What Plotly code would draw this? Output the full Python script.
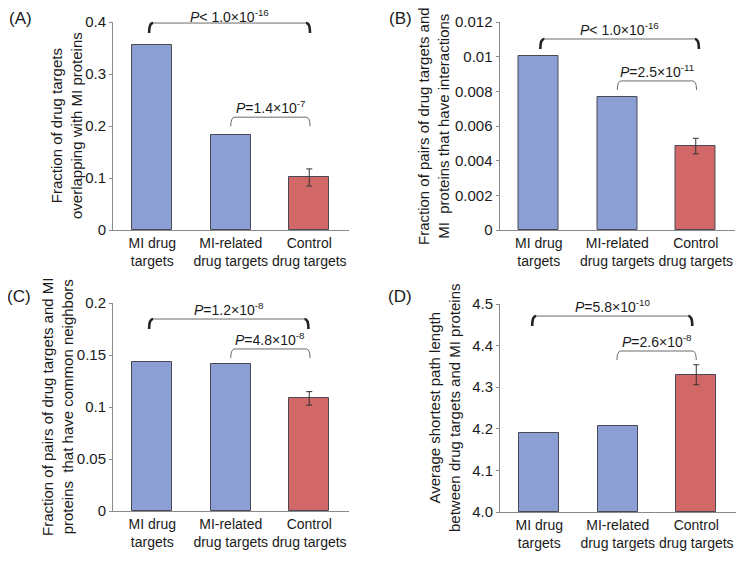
import plotly.graph_objects as go

# The page body has an 8px margin, so the figure paper starts at (8, 8) on screen.
OFF = 8
W, H = 754 - OFF, 562 - OFF

categories = ["MI drug<br>targets", "MI-related<br>drug targets", "Control<br>drug targets"]

a_values = [0.355, 0.183, 0.101]
a_errors = [0, 0, 0.0165]
b_values = [0.01005, 0.00769, 0.00484]
b_errors = [0, 0, 0.00045]
c_values = [0.1428, 0.1410, 0.1083]
c_errors = [0, 0, 0.0065]
d_values = [4.190, 4.206, 4.330]
d_errors = [0, 0, 0.024]

a_ticks = [0, 0.1, 0.2, 0.3, 0.4]
a_ticktext = ["0", "0.1", "0.2", "0.3", "0.4"]
b_ticks = [0, 0.002, 0.004, 0.006, 0.008, 0.01, 0.012]
b_ticktext = ["0", "0.002", "0.004", "0.006", "0.008", "0.01", "0.012"]
c_ticks = [0, 0.05, 0.1, 0.15, 0.2]
c_ticktext = ["0", "0.05", "0.1", "0.15", "0.2"]
d_ticks = [4.0, 4.1, 4.2, 4.3, 4.4, 4.5]
d_ticktext = ["4.0", "4.1", "4.2", "4.3", "4.4", "4.5"]

a_title = ["Fraction of drug targets", "overlapping with MI proteins"]
b_title = ["Fraction of pairs of drug targets and", "MI  proteins that have interactions"]
c_title = ["Fraction of pairs of drug targets and MI", "proteins  that have common neighbors"]
d_title = ["Average shortest path length", "between drug targets and MI proteins"]

# brackets: (x_left, x_right, y_top, label, bold_ends)
a_brackets = [(-0.04, 2.01, 0.398, "<i>P</i>< 1.0×10<sup>-16</sup>", True),
              (1.0, 2.01, 0.217, "<i>P</i>=1.4×10<sup>-7</sup>", False)]
b_brackets = [(0.02, 2.04, 0.01102, "<i>P</i>< 1.0×10<sup>-16</sup>", True),
              (1.0, 2.01, 0.0086, "<i>P</i>=2.5×10<sup>-11</sup>", False)]
c_brackets = [(-0.04, 1.99, 0.1846, "<i>P</i>=1.2×10<sup>-8</sup>", True),
              (1.0, 2.01, 0.1558, "<i>P</i>=4.8×10<sup>-8</sup>", False)]
d_brackets = [(-0.09, 1.95, 4.471, "<i>P</i>=5.8×10<sup>-10</sup>", True),
              (0.99, 2.0, 4.387, "<i>P</i>=2.6×10<sup>-8</sup>", False)]

panel_labels = ["(A)", "(B)", "(C)", "(D)"]

blue = "#8C9FD5"
red = "#D16767"
colors = [blue, blue, red]

# screen-pixel layout of each panel
panels = [
    dict(px=(113, 348.5), py=(22, 230), yr=(0, 0.4), vals=a_values, errs=a_errors,
         tv=a_ticks, tt=a_ticktext, title=a_title, tx=66, br=a_brackets, lab=(20, 18)),
    dict(px=(499.5, 735), py=(22, 230), yr=(0, 0.012), vals=b_values, errs=b_errors,
         tv=b_ticks, tt=b_ticktext, title=b_title, tx=433, br=b_brackets, lab=(400, 18)),
    dict(px=(113, 348.5), py=(303, 511), yr=(0, 0.2), vals=c_values, errs=c_errors,
         tv=c_ticks, tt=c_ticktext, title=c_title, tx=57, br=c_brackets, lab=(19, 296)),
    dict(px=(500, 735.5), py=(304, 512), yr=(4.0, 4.5), vals=d_values, errs=d_errors,
         tv=d_ticks, tt=d_ticktext, title=d_title, tx=444, br=d_brackets, lab=(400, 296)),
]


def paper(px, py):
    return (px - OFF) / W, 1 - (py - OFF) / H


fig = go.Figure()
shapes = []
annotations = []
font = "Arial, Liberation Sans, sans-serif"
xs = [0, 1, 2]

for i, p in enumerate(panels):
    n = "" if i == 0 else str(i + 1)
    xa, ya = "x" + n, "y" + n
    base = p["yr"][0]
    fig.add_trace(go.Bar(
        x=xs, y=[v - base for v in p["vals"]], base=base, width=0.51,
        xaxis=xa, yaxis=ya,
        marker=dict(color=colors, line=dict(color="#4a4a55", width=1)),
        showlegend=False, hoverinfo="skip",
    ))
    ex = [x for x, e in zip(xs, p["errs"]) if e > 0]
    ey = [v for v, e in zip(p["vals"], p["errs"]) if e > 0]
    ee = [e for e in p["errs"] if e > 0]
    fig.add_trace(go.Scatter(
        x=ex, y=ey, mode="markers", marker=dict(size=1, opacity=0),
        error_y=dict(type="data", array=ee, visible=True, color="#333333",
                     thickness=1, width=3),
        xaxis=xa, yaxis=ya, showlegend=False, hoverinfo="skip",
    ))
    x0p, x1p = p["px"]
    ytop, ybot = p["py"]
    dx0, dy1 = paper(x0p, ytop)
    dx1, dy0 = paper(x1p, ybot)
    axis_common = dict(showgrid=False, zeroline=False, showline=True,
                       linecolor="#8a8a8a", linewidth=1, automargin=False)
    fig.layout["xaxis" + n] = dict(
        domain=[dx0, min(dx1, 1)], range=[-0.5, 2.5], tickvals=xs, ticktext=categories,
        ticks="", tickangle=0, tickfont=dict(size=14, color="#1a1a1a", family=font),
        anchor=ya, fixedrange=True, **axis_common)
    fig.layout["yaxis" + n] = dict(
        domain=[dy0, dy1], range=list(p["yr"]), tickvals=p["tv"], ticktext=p["tt"],
        ticks="outside", ticklen=3, tickcolor="#8a8a8a",
        tickfont=dict(size=15, color="#1a1a1a", family=font),
        anchor=xa, fixedrange=True, **axis_common)

    def to_px(xv, yv, p=p):
        x0p, x1p = p["px"]
        ytop, ybot = p["py"]
        px = x0p + (xv + 0.5) / 3.0 * (x1p - x0p)
        py = ybot - (yv - p["yr"][0]) / (p["yr"][1] - p["yr"][0]) * (ybot - ytop)
        return px, py

    for (xl, xr, yt, label, bold) in p["br"]:
        lx, ty = to_px(xl, yt)
        rx, _ = to_px(xr, yt)
        drop = 10 if bold else 9
        c = 4
        ax, ay = paper(lx, ty + drop)
        bx, by = paper(lx, ty)
        cx, cy = paper(lx + c, ty)
        qx, qy = paper(rx - c, ty)
        ex_, ey_ = paper(rx, ty)
        fx, fy = paper(rx, ty + drop)
        path = (f"M {ax},{ay} Q {bx},{by} {cx},{cy} L {qx},{qy} "
                f"Q {ex_},{ey_} {fx},{fy}")
        shapes.append(dict(type="path", xref="paper", yref="paper", path=path,
                           line=dict(color="#6a6a6a", width=1)))
        if bold:
            for (sx, s2x, s3x) in [(ax, bx, cx), (fx, ex_, qx)]:
                pth = f"M {sx},{ay} Q {s2x},{by} {s3x},{cy}"
                shapes.append(dict(type="path", xref="paper", yref="paper", path=pth,
                                   line=dict(color="#222222", width=2.6)))
        # keep the label (with its superscript) inside the visible page
        label_py = max(ty - 10, 16)
        mx, my = paper((lx + rx) / 2, label_py)
        annotations.append(dict(x=mx, y=my, xref="paper", yref="paper", text=label,
                                showarrow=False, xanchor="center", yanchor="middle",
                                font=dict(size=14, color="#1a1a1a", family=font)))

    tx, tyy = paper(p["tx"], (ytop + ybot) / 2)
    annotations.append(dict(x=tx, y=tyy, xref="paper", yref="paper",
                            text="<br>".join(p["title"]), textangle=-90,
                            showarrow=False, xanchor="center", yanchor="middle",
                            font=dict(size=15, color="#1a1a1a", family=font)))
    lx, ly = paper(*p["lab"])
    annotations.append(dict(x=lx, y=ly, xref="paper", yref="paper", text=panel_labels[i],
                            showarrow=False, xanchor="center", yanchor="middle",
                            font=dict(size=17, color="#1a1a1a", family=font)))

fig.update_layout(
    width=W, height=H, margin=dict(l=0, r=0, t=0, b=0),
    paper_bgcolor="white", plot_bgcolor="white",
    shapes=shapes, annotations=annotations, bargap=0,
)

fig.write_html("out.html")
